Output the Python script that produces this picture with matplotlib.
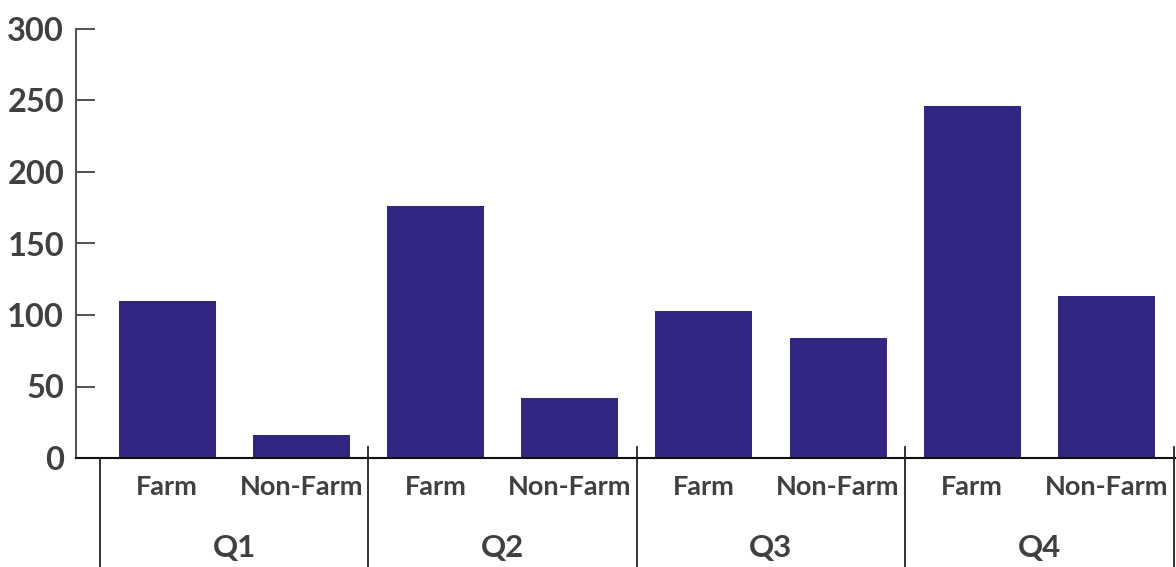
import matplotlib
matplotlib.use("Agg")
import matplotlib.pyplot as plt
import matplotlib.transforms as mtransforms

quarters = ["Q1", "Q2", "Q3", "Q4"]
segments = ["Farm", "Non-Farm"]
values = [110, 16, 176, 42, 103, 84, 246, 113]

bar_color = "#312783"
text_color = "#404040"

plt.rcParams["font.family"] = ["Lato", "DejaVu Sans"]

fig = plt.figure(figsize=(11.76, 5.67), dpi=100)
ax = fig.add_axes([76 / 1176, 109 / 567, 1100 / 1176, 429 / 567])

n = len(values)
xs = list(range(n))
ax.bar(xs, values, width=0.723, color=bar_color, zorder=2)

ax.set_ylim(0, 300)
ax.set_xlim(-0.679, 7.518)
ax.set_yticks(range(0, 301, 50))
ax.tick_params(axis="y", direction="in", length=14, width=1.2, color="#333333",
               labelsize=23.5, labelcolor=text_color, pad=8.5)
for lab in ax.get_yticklabels():
    lab.set_fontweight("bold")

ax.set_xticks(xs)
ax.set_xticklabels(segments * len(quarters), fontsize=19.5, fontweight="bold",
                   color=text_color)
ax.tick_params(axis="x", length=0, pad=12)

for side in ["top", "right"]:
    ax.spines[side].set_visible(False)
ax.spines["left"].set_color("#555555")
ax.spines["left"].set_linewidth(1.5)
ax.spines["bottom"].set_color("#111111")
ax.spines["bottom"].set_linewidth(1.5)

# group separators and quarter labels below the axis
trans = mtransforms.blended_transform_factory(ax.transData, ax.transAxes)
px = 1 / 429
for g in range(len(quarters) + 1):
    x = g * 2 - 0.5
    top = 0 if g == 0 else 11 * px
    ax.plot([x, x], [top, -109 * px], transform=trans, color="#222222",
            lw=1.3, clip_on=False, zorder=3)
for g, q in enumerate(quarters):
    ax.text(g * 2 + 0.5, -90 * px, q, transform=trans, ha="center", va="center",
            fontsize=22.5, fontweight="bold", color=text_color)

fig.savefig("out.png", dpi=100)
